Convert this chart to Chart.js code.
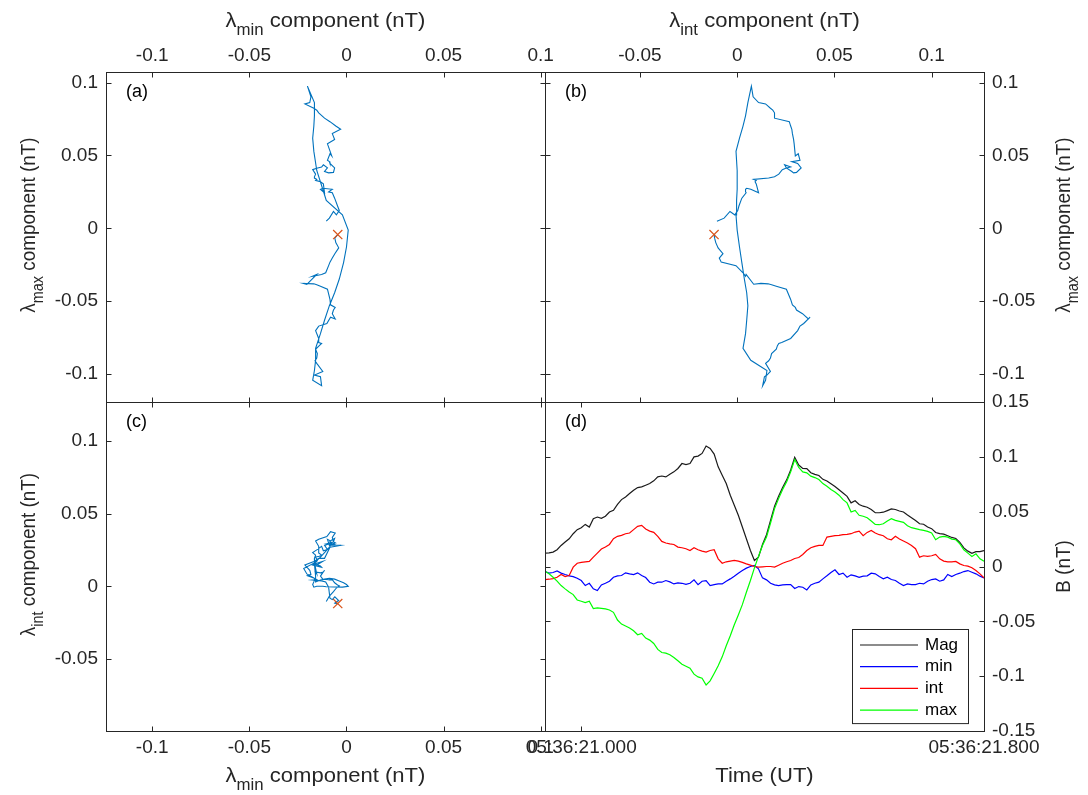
<!DOCTYPE html>
<html>
<head>
<meta charset="utf-8">
<title>Variance-frame hodograms</title>
<script src="https://cdn.jsdelivr.net/npm/chart.js@4.4.1/dist/chart.umd.min.js"></script>
<style>
  html, body { margin: 0; background: #fff; }
  #figure { position: relative; width: 1088px; height: 795px; }
  #figure canvas { position: absolute; left: 0; top: 0; }
</style>
</head>
<body>
<div id="figure">
  <canvas id="panelA" width="1088" height="795"></canvas>
  <canvas id="panelB" width="1088" height="795"></canvas>
  <canvas id="panelC" width="1088" height="795"></canvas>
  <canvas id="panelD" width="1088" height="795"></canvas>
</div>
<script>
// field in the minimum-variance frame (nT), one sample every 8 ms
const bMin = [
  -0.0045, -0.006, -0.0055, -0.004, -0.006, -0.0073, -0.0085, -0.0092, -0.0107, -0.0128,
  -0.0174, -0.0153, -0.0204, -0.022, -0.0168, -0.0153, -0.0134, -0.0098, -0.0085, -0.0082,
  -0.0058, -0.0067, -0.0073, -0.0058, -0.0082, -0.0101, -0.0143, -0.0159, -0.0143, -0.0143,
  -0.0128, -0.014, -0.0159, -0.015, -0.0153, -0.0162, -0.0153, -0.0122, -0.0165, -0.0134,
  -0.0128, -0.0174, -0.0165, -0.0159, -0.0159, -0.0134, -0.0113, -0.0088, -0.0061, -0.0037,
  -0.0015, 0.0, 0.0009, -0.0021, -0.0104, -0.0122, -0.0153, -0.0168, -0.0174, -0.0168,
  -0.0165, -0.0165, -0.0201, -0.0183, -0.0189, -0.0214, -0.0168, -0.0153, -0.0143, -0.0113,
  -0.0085, -0.0055, -0.003, -0.0073, -0.0061, -0.0098, -0.0076, -0.0085, -0.0098, -0.0088,
  -0.0085, -0.0061, -0.0067, -0.0092, -0.0113, -0.0098, -0.0119, -0.0128, -0.0153, -0.0174,
  -0.0159, -0.0165, -0.0165, -0.0153, -0.0159, -0.0134, -0.0119, -0.0113, -0.0134, -0.0122,
  -0.0073, -0.0092, -0.0073, -0.0061, -0.0046, -0.0037, -0.0052, -0.0067, -0.0088, -0.0104
];
const bInt = [
  -0.0119, -0.0116, -0.011, -0.0098, -0.0073, -0.0092, -0.0082, -0.0006, 0.003, 0.0037,
  0.0043, 0.0046, 0.0085, 0.0122, 0.0159, 0.0177, 0.0201, 0.0253, 0.0275, 0.0284,
  0.0299, 0.0305, 0.0336, 0.0366, 0.0375, 0.0342, 0.0323, 0.0311, 0.0275, 0.0229,
  0.0214, 0.0207, 0.0201, 0.0177, 0.0171, 0.0162, 0.0146, 0.0171, 0.0153, 0.014,
  0.0131, 0.0146, 0.0153, 0.007, 0.003, 0.0043, 0.0049, 0.0055, 0.0049, 0.0037,
  0.0024, 0.0012, 0.0, -0.0006, -0.0003, 0.0, 0.0, -0.0006, 0.0012, 0.003,
  0.0043, 0.0055, 0.0073, 0.0082, 0.011, 0.0146, 0.0171, 0.0183, 0.0192, 0.0192,
  0.0268, 0.0275, 0.0281, 0.0284, 0.029, 0.0293, 0.0299, 0.0314, 0.0323, 0.0281,
  0.0311, 0.0329, 0.0305, 0.029, 0.0281, 0.0253, 0.0244, 0.0275, 0.025, 0.0232,
  0.0214, 0.0192, 0.0162, 0.0085, 0.0098, 0.0092, 0.0098, 0.011, 0.007, 0.0049,
  0.0043, 0.0043, 0.0046, 0.0024, 0.0009, 0.0003, -0.0012, -0.0037, -0.0067, -0.0104
];
const bMax = [
  -0.0043, -0.0067, -0.0098, -0.0134, -0.0174, -0.0204, -0.0232, -0.0256, -0.0305, -0.0317,
  -0.0329, -0.0317, -0.0384, -0.0378, -0.0381, -0.0387, -0.0397, -0.0418, -0.0488, -0.0525,
  -0.0543, -0.0561, -0.0586, -0.0622, -0.061, -0.0653, -0.0671, -0.0702, -0.0756, -0.0784,
  -0.079, -0.0805, -0.083, -0.086, -0.0891, -0.0909, -0.0927, -0.0982, -0.1007, -0.1019,
  -0.108, -0.1043, -0.0976, -0.0906, -0.0824, -0.0723, -0.0631, -0.0531, -0.0442, -0.0348,
  -0.0235, -0.0128, -0.0012, 0.0092, 0.0192, 0.0268, 0.0397, 0.0528, 0.0619, 0.0702,
  0.0772, 0.0863, 0.0976, 0.0903, 0.0863, 0.0854, 0.0824, 0.0811, 0.0793, 0.0756,
  0.0732, 0.0702, 0.068, 0.065, 0.061, 0.058, 0.0497, 0.0512, 0.0467, 0.0458,
  0.0445, 0.0415, 0.0384, 0.0381, 0.039, 0.0415, 0.0436, 0.0421, 0.0412, 0.0403,
  0.0372, 0.0354, 0.0345, 0.0336, 0.0329, 0.032, 0.0305, 0.0244, 0.0268, 0.0275,
  0.0268, 0.025, 0.0244, 0.0207, 0.0153, 0.0122, 0.0092, 0.0116, 0.007, 0.0049
];
const bMag = [
  0.0122, 0.0125, 0.0131, 0.0153, 0.0192, 0.0223, 0.0253, 0.0299, 0.0336, 0.0354,
  0.0384, 0.036, 0.0436, 0.0451, 0.0439, 0.0458, 0.0497, 0.0512, 0.0567, 0.061,
  0.0634, 0.0665, 0.0695, 0.072, 0.0726, 0.0741, 0.0756, 0.0781, 0.0817, 0.0825,
  0.0817, 0.0842, 0.0863, 0.0894, 0.0939, 0.093, 0.0939, 0.1, 0.1007, 0.1031,
  0.1098, 0.1077, 0.1025, 0.0909, 0.0833, 0.0756, 0.065, 0.0558, 0.0467, 0.036,
  0.0253, 0.0146, 0.0055, 0.0085, 0.0201, 0.029, 0.042, 0.055, 0.064, 0.072,
  0.079, 0.088, 0.0995, 0.0925, 0.0895, 0.0893, 0.0855, 0.084, 0.083, 0.0795,
  0.078, 0.0755, 0.073, 0.070, 0.067, 0.064, 0.058, 0.060, 0.0565, 0.055,
  0.054, 0.052, 0.049, 0.049, 0.0495, 0.051, 0.0525, 0.052, 0.0506, 0.0497,
  0.047, 0.0445, 0.042, 0.039, 0.0385, 0.036, 0.0345, 0.031, 0.030, 0.0295,
  0.028, 0.0265, 0.0255, 0.022, 0.017, 0.014, 0.012, 0.0135, 0.0135, 0.0145
];

// time base, seconds past 05:36
const T_START = 20.928;
const DT = 0.008;
const timeTicks = [21.0, 21.8];

// axis limits
const minLim = [-0.1238, 0.1022];
const maxLim = [-0.1192, 0.1073];
const intLimTop = [-0.0988, 0.1269];
const intLimLeft = [-0.0995, 0.1267];
const bLim = [-0.15, 0.15];

const INK = '#262626';
const FONT = '"Liberation Sans", Arial, Helvetica, sans-serif';
const TICK = 5;
Chart.defaults.font.family = FONT;
Chart.defaults.color = INK;

function lam(sub) {
  return [{ text: 'λ' }, { text: sub, sub: true }, { text: ' component (nT)' }];
}

// axis labels per canvas; kept out of the chart options so Chart.js does not proxy them
const axisLabels = {
  panelA: [
    { side: 'top', gap: 45, stretch: 1.05, parts: lam('min') },
    { side: 'left', gap: 71, stretch: 0.9, along: -12, parts: lam('max') }
  ],
  panelB: [
    { side: 'top', gap: 45, stretch: 1.05, parts: lam('int') },
    { side: 'right', gap: 86, stretch: 0.9, along: -12, parts: lam('max') }
  ],
  panelC: [
    { side: 'bottom', gap: 51, stretch: 1.05, parts: lam('min') },
    { side: 'left', gap: 71, stretch: 0.9, along: -12, parts: lam('int') }
  ],
  panelD: [
    { side: 'bottom', gap: 51, stretch: 1.05, parts: [{ text: 'Time (UT)' }] },
    { side: 'right', gap: 86, stretch: 0.9, parts: [{ text: 'B (nT)' }] }
  ]
};

// box round the plot area with inward ticks on all four sides, plus the panel tag
const axesFrame = {
  id: 'axesFrame',
  afterDatasetsDraw(chart, args, opts) {
    const { ctx, chartArea: a } = chart;
    const L = Math.round(a.left) + 0.5, R = Math.round(a.right) + 0.5;
    const T = Math.round(a.top) + 0.5, B = Math.round(a.bottom) + 0.5;
    ctx.save();
    ctx.strokeStyle = INK;
    ctx.lineWidth = 1;
    ctx.strokeRect(L, T, R - L, B - T);
    ctx.beginPath();
    Object.values(chart.scales).forEach(scale => {
      scale.ticks.forEach(tick => {
        const p = Math.round(scale.getPixelForValue(tick.value)) + 0.5;
        if (scale.isHorizontal()) {
          ctx.moveTo(p, T); ctx.lineTo(p, T + TICK);
          ctx.moveTo(p, B); ctx.lineTo(p, B - TICK);
        } else {
          ctx.moveTo(L, p); ctx.lineTo(L + TICK, p);
          ctx.moveTo(R, p); ctx.lineTo(R - TICK, p);
        }
      });
    });
    ctx.stroke();
    if (opts.letter) {
      ctx.fillStyle = '#000';
      ctx.font = '18px ' + FONT;
      ctx.textBaseline = 'alphabetic';
      ctx.fillText(opts.letter, a.left + 20, a.top + 25);
    }
    ctx.restore();
  }
};

// axis labels with a subscript part (lambda_min etc.)
const axisTitles = {
  id: 'axisTitles',
  afterDraw(chart) {
    const { ctx, chartArea: a } = chart;
    (axisLabels[chart.canvas.id] || []).forEach(item => {
      const fontOf = p => (p.sub ? '16px ' : '21px ') + FONT;
      let total = 0;
      item.parts.forEach(p => { ctx.font = fontOf(p); total += ctx.measureText(p.text).width; });
      ctx.save();
      ctx.fillStyle = INK;
      ctx.textBaseline = 'alphabetic';
      ctx.textAlign = 'left';
      if (item.side === 'top' || item.side === 'bottom') {
        ctx.translate((a.left + a.right) / 2, item.side === 'top' ? a.top - item.gap : a.bottom + item.gap);
      } else {
        ctx.translate(item.side === 'left' ? a.left - item.gap : a.right + item.gap,
                      (a.top + a.bottom) / 2 + (item.along || 0));
        ctx.rotate(-Math.PI / 2);
      }
      ctx.scale(item.stretch, 1);
      let x = -total / 2;
      item.parts.forEach(p => {
        ctx.font = fontOf(p);
        ctx.fillText(p.text, x, p.sub ? 8 : 0);
        x += ctx.measureText(p.text).width;
      });
      ctx.restore();
    });
  }
};

// boxed legend in the lower right of the plot area
const boxLegend = {
  id: 'boxLegend',
  afterDraw(chart, args, opts) {
    if (!opts.show) return;
    const { ctx, chartArea: a } = chart;
    const sets = chart.data.datasets;
    const rowH = 21.7, w = 116, h = 16 + rowH * (sets.length - 1) + 13;
    const x = Math.round(a.right - 16 - w), y = Math.round(a.bottom - 8 - h);
    ctx.save();
    ctx.fillStyle = '#fff';
    ctx.fillRect(x, y, w, h);
    ctx.strokeStyle = INK;
    ctx.lineWidth = 1;
    ctx.strokeRect(x + 0.5, y + 0.5, w, h);
    ctx.font = '17px ' + FONT;
    ctx.textBaseline = 'middle';
    sets.forEach((ds, i) => {
      const cy = y + 16 + i * rowH;
      ctx.strokeStyle = ds.borderColor;
      ctx.lineWidth = 1.2;
      ctx.beginPath();
      ctx.moveTo(x + 8, cy);
      ctx.lineTo(x + 66, cy);
      ctx.stroke();
      ctx.fillStyle = '#000';
      ctx.fillText(ds.label, x + 73, cy);
    });
    ctx.restore();
  }
};

Chart.register(axesFrame, axisTitles, boxLegend);

function fixedSize(px) {
  return scale => {
    if (scale.isHorizontal()) scale.height = px; else scale.width = px;
    scale.paddingLeft = scale.paddingRight = scale.paddingTop = scale.paddingBottom = 0;
  };
}

function axis(position, lim, size, extra) {
  return Object.assign({
    type: 'linear',
    position: position,
    min: lim[0],
    max: lim[1],
    grid: { display: false, drawTicks: false },
    border: { display: false },
    ticks: {
      stepSize: 0.05,
      includeBounds: false,
      autoSkip: false,
      maxRotation: 0,
      padding: position === 'left' || position === 'right' ? 8 : 5,
      font: { size: 19 },
      color: INK,
      callback: v => String(Math.round(v * 100) / 100)
    },
    afterFit: fixedSize(size)
  }, extra || {});
}

function hodoSets(xs, ys) {
  return [
    {
      data: [{ x: xs[0], y: ys[0] }],
      pointStyle: 'crossRot',
      pointRadius: 6.5,
      borderColor: '#D95319',
      borderWidth: 1.2,
      showLine: false
    },
    {
      data: xs.map((v, i) => ({ x: v, y: ys[i] })),
      borderColor: '#0072BD',
      borderWidth: 1.1,
      pointRadius: 0,
      showLine: true,
      tension: 0
    }
  ];
}

function baseOptions(padding, scales, plugins) {
  return {
    responsive: false,
    animation: false,
    events: [],
    devicePixelRatio: 1,
    layout: { padding: padding },
    scales: scales,
    plugins: Object.assign({ legend: { display: false }, tooltip: { enabled: false } }, plugins)
  };
}

// (a) lambda_min vs lambda_max
new Chart(document.getElementById('panelA'), {
  type: 'scatter',
  data: { datasets: hodoSets(bMin, bMax) },
  options: baseOptions(
    { left: 0, top: 0, right: 543, bottom: 393 },
    { x: axis('top', minLim, 72), y: axis('left', maxLim, 106) },
    { axesFrame: { letter: '(a)' } }
  )
});

// (b) lambda_int vs lambda_max
new Chart(document.getElementById('panelB'), {
  type: 'scatter',
  data: { datasets: hodoSets(bInt, bMax) },
  options: baseOptions(
    { left: 545, top: 0, right: 0, bottom: 393 },
    { x: axis('top', intLimTop, 72), y: axis('right', maxLim, 104) },
    { axesFrame: { letter: '(b)' } }
  )
});

// (c) lambda_min vs lambda_int
new Chart(document.getElementById('panelC'), {
  type: 'scatter',
  data: { datasets: hodoSets(bMin, bInt) },
  options: baseOptions(
    { left: 0, top: 402, right: 543, bottom: 0 },
    { x: axis('bottom', minLim, 64), y: axis('left', intLimLeft, 106) },
    { axesFrame: { letter: '(c)' } }
  )
});

// (d) components and magnitude against time
const times = bMag.map((_, i) => T_START + i * DT);
const series = [
  { label: 'Mag', values: bMag, color: '#1a1a1a' },
  { label: 'min', values: bMin, color: '#0000ff' },
  { label: 'int', values: bInt, color: '#ff0000' },
  { label: 'max', values: bMax, color: '#00ff00' }
];

new Chart(document.getElementById('panelD'), {
  type: 'scatter',
  data: {
    datasets: series.map((s, k) => ({
      label: s.label,
      data: s.values.map((v, i) => ({ x: times[i], y: v })),
      borderColor: s.color,
      borderWidth: 1.2,
      pointRadius: 0,
      showLine: true,
      tension: 0,
      order: series.length - k
    }))
  },
  options: baseOptions(
    { left: 545, top: 402, right: 0, bottom: 0 },
    {
      x: axis('bottom', [times[0], times[times.length - 1]], 64, {
        afterBuildTicks: scale => { scale.ticks = timeTicks.map(v => ({ value: v })); },
        ticks: {
          autoSkip: false, maxRotation: 0, padding: 5, font: { size: 19 }, color: INK,
          callback: v => '05:36:' + Number(v).toFixed(3)
        }
      }),
      y: axis('right', bLim, 104)
    },
    { axesFrame: { letter: '(d)' }, boxLegend: { show: true } }
  )
});
</script>
</body>
</html>
